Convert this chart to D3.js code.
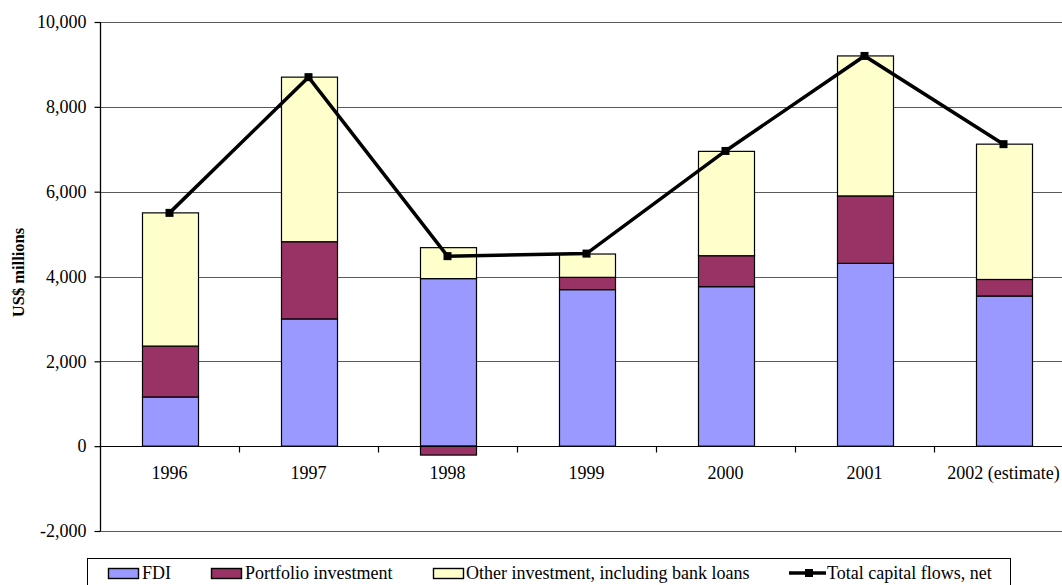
<!DOCTYPE html>
<html>
<head>
<meta charset="utf-8">
<script src="https://cdn.jsdelivr.net/npm/d3@7"></script>
<style>
  html, body { margin: 0; padding: 0; background: #fff; }
  svg { display: block; }
</style>
</head>
<body>
<svg id="chart" width="1062" height="585" font-family="Liberation Serif">
  <text id="ytitle" transform="translate(24,272.5) rotate(-90)" text-anchor="middle"
        style="font-family:'Liberation Serif'; font-size:16.5px; font-weight:bold">US$ millions</text>
</svg>
<script>
// Capital flows by year, US$ millions
const years = ["1996", "1997", "1998", "1999", "2000", "2001", "2002 (estimate)"];
const fdi = [1160, 3000, 3950, 3690, 3760, 4310, 3540];
const portfolio = [1200, 1820, -210, 290, 730, 1590, 390];
const otherInvestment = [3140, 3880, 730, 550, 2460, 3300, 3190];
const totalNet = [5500, 8700, 4480, 4540, 6960, 9200, 7120];
const yTicks = [-2000, 0, 2000, 4000, 6000, 8000, 10000];

const seriesNames = ["FDI", "Portfolio investment", "Other investment, including bank loans"];
const seriesColors = ["#9999FF", "#993366", "#FFFFCC"];
const lineName = "Total capital flows, net";

const FONT = "'Liberation Serif'";
const FS = "18px";

const svg = d3.select("#chart");
const plot = { left: 100, top: 22, right: 1073, bottom: 531 };

const x = d3.scaleBand().domain(years).range([plot.left, plot.right]).padding(0);
const y = d3.scaleLinear().domain([-2000, 10000]).range([plot.bottom, plot.top]);
const barW = x.bandwidth() * 0.4;

// gridlines
svg.append("g").selectAll("line").data(yTicks).join("line")
  .attr("x1", plot.left).attr("x2", plot.right)
  .attr("y1", d => Math.round(y(d)) + 0.5).attr("y2", d => Math.round(y(d)) + 0.5)
  .attr("stroke", "#5a5a5a").attr("stroke-width", 1);

// stacked bars: positive and negative parts stacked separately
const rows = years.map((yr, i) => ({ year: yr, vals: [fdi[i], portfolio[i], otherInvestment[i]] }));
const segs = [];
rows.forEach(r => {
  let pos = 0, neg = 0;
  r.vals.forEach((v, k) => {
    if (v >= 0) { segs.push({ year: r.year, k, y0: pos, y1: pos + v }); pos += v; }
    else { segs.push({ year: r.year, k, y0: neg + v, y1: neg }); neg += v; }
  });
});
svg.append("g").selectAll("rect").data(segs).join("rect")
  .attr("x", d => Math.round(x(d.year) + (x.bandwidth() - barW) / 2) + 0.5)
  .attr("width", Math.round(barW))
  .attr("y", d => y(d.y1))
  .attr("height", d => y(d.y0) - y(d.y1))
  .attr("fill", d => seriesColors[d.k])
  .attr("stroke", "#000").attr("stroke-width", 1.2);

// y axis
const fmt = d3.format(",");
const yAxis = svg.append("g").attr("transform", `translate(${plot.left + 0.5},0)`)
  .call(d3.axisLeft(y).tickValues(yTicks).tickFormat(d => fmt(d).replace("\u2212", "-")).tickSize(6).tickPadding(8));
yAxis.attr("font-family", null).attr("font-size", null);
yAxis.select(".domain").attr("stroke", "#000").attr("stroke-width", 1.3).attr("d", `M0,${plot.top}V${plot.bottom}`);
yAxis.selectAll(".tick line").attr("stroke", "#000").attr("stroke-width", 1.2);
yAxis.selectAll(".tick text").attr("fill", "#000")
  .style("font-family", FONT).style("font-size", FS);

// x axis at zero with boundary ticks
const xAxisY = Math.round(y(0)) + 0.5;
const xg = svg.append("g");
xg.append("line").attr("x1", plot.left).attr("x2", plot.right)
  .attr("y1", xAxisY).attr("y2", xAxisY).attr("stroke", "#000").attr("stroke-width", 1.2);
xg.selectAll(".btick").data(years.slice(1)).join("line")
  .attr("x1", d => Math.round(x(d)) + 0.5).attr("x2", d => Math.round(x(d)) + 0.5)
  .attr("y1", xAxisY).attr("y2", xAxisY + 6).attr("stroke", "#000").attr("stroke-width", 1.2);
xg.selectAll(".xlab").data(years).join("text")
  .attr("x", d => x(d) + x.bandwidth() / 2)
  .attr("y", 479)
  .attr("text-anchor", "middle").attr("fill", "#000")
  .style("font-family", FONT).style("font-size", FS)
  .text(d => d);

// total line with square markers
const cx = d => x(d) + x.bandwidth() / 2;
const linePts = years.map((yr, i) => [cx(yr), y(totalNet[i])]);
svg.append("path").attr("d", d3.line()(linePts))
  .attr("fill", "none").attr("stroke", "#000").attr("stroke-width", 3.5).attr("stroke-linejoin", "miter");
svg.append("g").selectAll("rect").data(linePts).join("rect")
  .attr("x", d => d[0] - 4).attr("y", d => d[1] - 4)
  .attr("width", 8).attr("height", 8).attr("fill", "#000");

// legend
const lg = svg.append("g");
lg.append("rect").attr("x", 87.5).attr("y", 558.5).attr("width", 923).attr("height", 40)
  .attr("fill", "#fff").attr("stroke", "#000").attr("stroke-width", 1);
const legendItems = [
  { sw: 108, tx: 142, k: 0 },
  { sw: 211, tx: 245, k: 1 },
  { sw: 433, tx: 466, k: 2 }
];
legendItems.forEach(it => {
  lg.append("rect").attr("x", it.sw + 0.5).attr("y", 568.5).attr("width", 30).attr("height", 10)
    .attr("fill", seriesColors[it.k]).attr("stroke", "#000").attr("stroke-width", 1.4);
  lg.append("text").attr("x", it.tx).attr("y", 579)
    .style("font-family", FONT).style("font-size", FS).text(seriesNames[it.k]);
});
lg.append("line").attr("x1", 789).attr("x2", 826).attr("y1", 573).attr("y2", 573)
  .attr("stroke", "#000").attr("stroke-width", 3.5);
lg.append("rect").attr("x", 805).attr("y", 569).attr("width", 8).attr("height", 8).attr("fill", "#000");
lg.append("text").attr("x", 827).attr("y", 579)
  .style("font-family", FONT).style("font-size", FS).text(lineName);
</script>
</body>
</html>
